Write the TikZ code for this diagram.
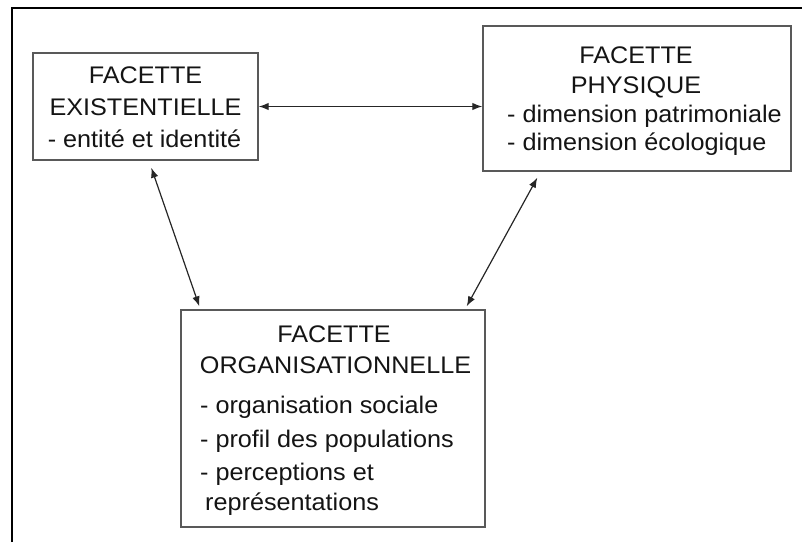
\documentclass[tikz,border=0pt]{standalone}
\usepackage{fontspec}
\setmainfont{Liberation Sans}
\usetikzlibrary{arrows.meta,calc}
\newcommand{\wide}[1]{\scalebox{1.05}[1]{#1}}
\begin{document}
\begin{tikzpicture}[x=1pt,y=-1pt,
  facet/.style={draw=black!65,line width=1.4pt,rectangle,inner sep=0pt},
  txt/.style={inner sep=0pt,anchor=base,text=black!92,font=\fontsize{24}{30}\selectfont},
  txtl/.style={txt,anchor=base west},
  link/.style={line width=1.2pt,black!85,{Latex[length=10pt,width=7.5pt]}-{Latex[length=10pt,width=7.5pt]}},
  frameline/.style={line width=2.2pt,black}]
\useasboundingbox (0,0) rectangle (802,542);
\draw[frameline] (12,542) -- (12,8) -- (802,8);

\node[facet,minimum width=225pt,minimum height=107pt] (ex) at (145.5,106.5) {};
\node[facet,minimum width=308pt,minimum height=145pt] (ph) at (637,98.5) {};
\node[facet,minimum width=304pt,minimum height=217pt] (org) at (333,418.5) {};

\node[txt] (ex1) at (145.5,83) {\wide{FACETTE}};
\node[txt] (ex2) at (145.5,115) {\wide{EXISTENTIELLE}};
\node[txt] (ex3) at (144.5,147) {\wide{- entité et identité}};

\node[txt] (ph1) at (636,63) {\wide{FACETTE}};
\node[txt] (ph2) at (636,93) {\wide{PHYSIQUE}};
\node[txtl] (ph3) at (507,122) {\wide{- dimension patrimoniale}};
\node[txtl] (ph4) at (507,150) {\wide{- dimension écologique}};

\node[txt] (or1) at (334,342) {\wide{FACETTE}};
\node[txt] (or2) at (335.5,373) {\wide{ORGANISATIONNELLE}};
\node[txtl] (or3) at (200,413) {\wide{- organisation sociale}};
\node[txtl] (or4) at (200,447) {\wide{- profil des populations}};
\node[txtl] (or5) at (200,480) {\wide{- perceptions et}};
\node[txtl] (or6) at (205,510) {\wide{représentations}};

\draw[link] (ex.east) -- (ex.east -| ph.west);
\draw[link] ($(ex.south west)+(119,7)$) -- ($(org.north west)+(19,-3)$);
\draw[link] ($(ph.south west)+(55,6)$) -- ($(org.north east)+(-19,-3)$);
\end{tikzpicture}
\end{document}
